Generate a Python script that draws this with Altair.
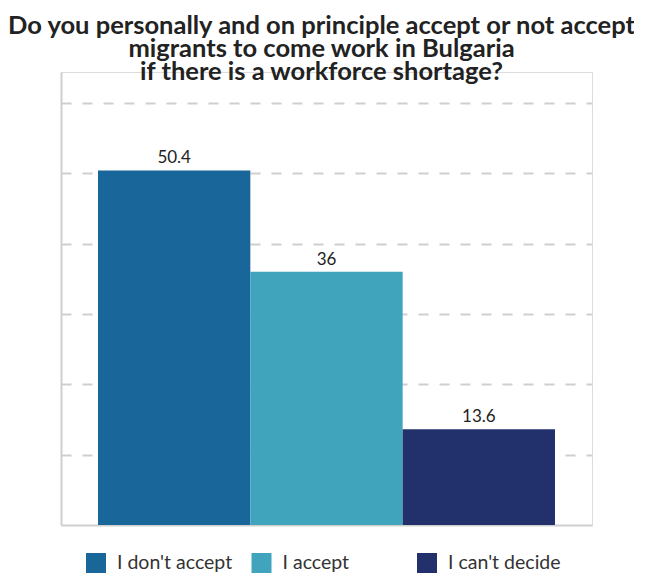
import altair as alt
import pandas as pd

categories = ["I don't accept", "I accept", "I can't decide"]
values = [50.4, 36, 13.6]
colors = ["#19679A", "#40A4BC", "#22306B"]
title_lines = [
    "Do you personally and on principle accept or not accept",
    "migrants to come work in Bulgaria",
    "if there is a workforce shortage?",
]
grid_values = [10, 20, 30, 40, 50, 60]

df = pd.DataFrame({"answer": categories, "value": values})

FONT = "Lato"
GREY = "#cfcfcf"

x_enc = alt.X(
    "answer:N",
    sort=categories,
    scale=alt.Scale(paddingInner=0, paddingOuter=0.243),
    axis=alt.Axis(labels=False, ticks=False, title=None, grid=False,
                  domainColor=GREY, domainWidth=2),
)
y_enc = alt.Y(
    "value:Q",
    scale=alt.Scale(domain=[0, 64.4], nice=False, zero=True),
    axis=alt.Axis(labels=False, ticks=False, title=None, values=grid_values,
                  grid=True, gridDash=[10, 11], gridColor=GREY, gridWidth=2,
                  domainColor=GREY, domainWidth=2),
)

base = alt.Chart(df)

bars = base.mark_bar().encode(
    x=x_enc,
    y=y_enc,
    color=alt.Color(
        "answer:N",
        sort=categories,
        scale=alt.Scale(domain=categories, range=colors),
        legend=alt.Legend(
            title=None,
            orient="none",
            legendX=25,
            legendY=481,
            direction="horizontal",
            columns=3,
            gridAlign="all",
            columnPadding=18.5,
            symbolType="square",
            symbolSize=400,
            symbolStrokeWidth=0,
            symbolOpacity=1,
            labelFont=FONT,
            labelFontSize=19.5,
            labelColor="#333333",
            labelOffset=11,
            labelLimit=300,
            padding=0,
        ),
    ),
)

labels = base.mark_text(
    dy=-7, baseline="alphabetic", fontSize=17, font=FONT, color="#222222"
).encode(x=x_enc, y=y_enc, text=alt.Text("value:Q"))

chart = (
    alt.layer(bars, labels)
    .properties(
        width=531,
        height=453,
        autosize=alt.AutoSizeParams(type="none"),
        padding={"left": 53, "top": 64, "right": 42, "bottom": 50},
        title=alt.TitleParams(
            title_lines,
            font=FONT,
            fontSize=25.5,
            fontWeight="bold",
            color="#222222",
            anchor="middle",
            lineHeight=23,
            dx=-5,
            offset=-13,
        ),
    )
    .configure_view(stroke=None)
    .configure(background="white")
)

chart.save("out.html", embed_options={"renderer": "svg", "actions": False})
